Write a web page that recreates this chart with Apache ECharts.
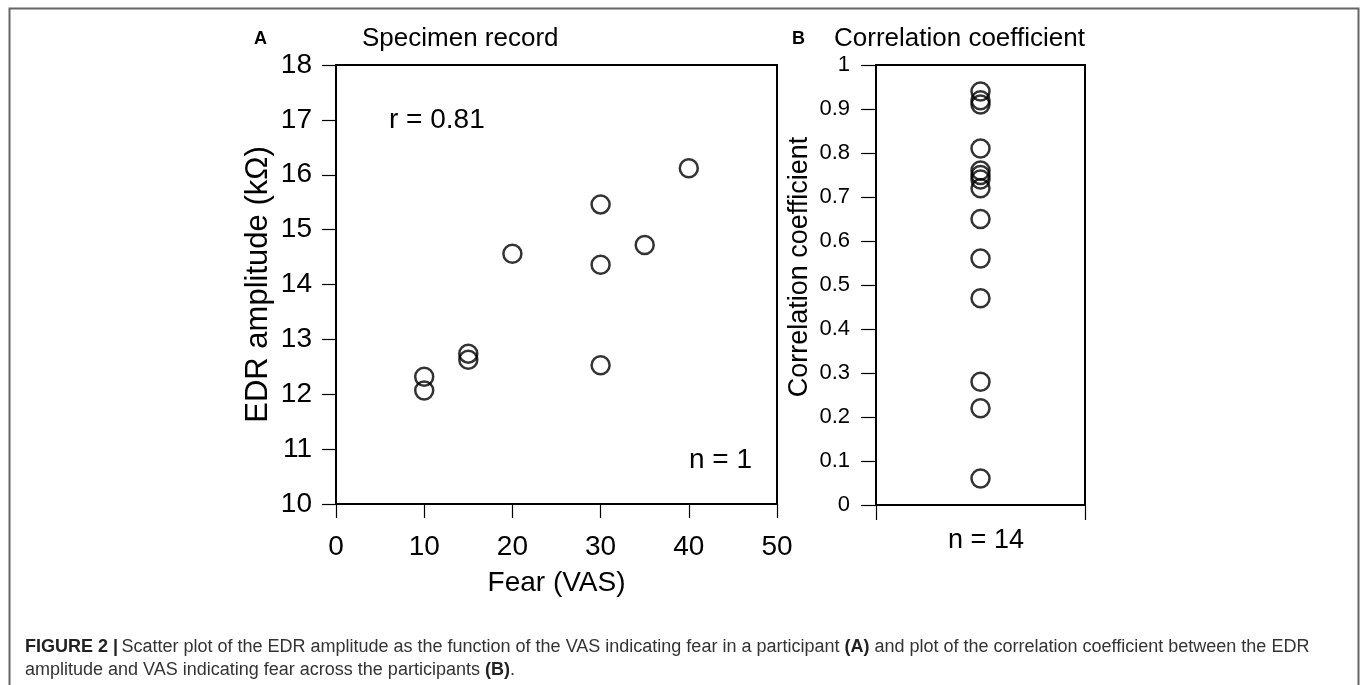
<!DOCTYPE html>
<html>
<head>
<meta charset="utf-8">
<script src="https://cdn.jsdelivr.net/npm/echarts@6/dist/echarts.min.js"></script>
<style>
html,body{margin:0;padding:0;background:#fff;}
#chart{width:1360px;height:685px;}
</style>
</head>
<body>
<div id="chart"></div>
<script>
// Panel A data: Fear (VAS) vs EDR amplitude (kΩ)
const fearVAS = [10, 10, 15, 15, 20, 30, 30, 30, 35, 40];
const edrAmplitude = [12.07, 12.32, 12.74, 12.63, 14.56, 15.46, 14.36, 12.53, 14.72, 16.12];
// Panel B data: correlation coefficients across participants
const corrCoefficients = [0.06, 0.22, 0.28, 0.47, 0.56, 0.65, 0.72, 0.74, 0.75, 0.76, 0.81, 0.91, 0.92, 0.94];
const corrX = 1;

const FONT = '"Liberation Sans", Arial, Helvetica, sans-serif';
const chart = echarts.init(document.getElementById('chart'));

const markerStyle = { color: 'rgba(0,0,0,0)', borderColor: '#000', borderWidth: 2.5 };

chart.setOption({
  backgroundColor: '#fff',
  animation: false,
  textStyle: { fontFamily: FONT },
  title: [
    { text: 'A', left: 249, top: 25, textStyle: { fontFamily: FONT, fontSize: 18, fontWeight: 'bold', color: '#000' } },
    { text: 'Specimen record', left: 357, top: 21, textStyle: { fontFamily: FONT, fontSize: 26, fontWeight: 'normal', color: '#000' } },
    { text: 'B', left: 787, top: 25, textStyle: { fontFamily: FONT, fontSize: 18, fontWeight: 'bold', color: '#000' } },
    { text: 'Correlation coefficient', left: 829, top: 21, textStyle: { fontFamily: FONT, fontSize: 26, fontWeight: 'normal', color: '#000' } }
  ],
  grid: [
    { left: 336, top: 65, width: 441, height: 439, show: true, borderColor: '#000', borderWidth: 2, backgroundColor: 'transparent' },
    { left: 876, top: 65, width: 209, height: 440, show: true, borderColor: '#000', borderWidth: 2, backgroundColor: 'transparent' }
  ],
  xAxis: [
    {
      gridIndex: 0, type: 'value', min: 0, max: 50, interval: 10,
      name: 'Fear (VAS)', nameLocation: 'middle', nameGap: 65,
      nameTextStyle: { fontFamily: FONT, fontSize: 28, color: '#000' },
      axisLine: { show: true, onZero: false, lineStyle: { color: '#000', width: 2 } },
      axisTick: { show: true, length: 14, lineStyle: { color: '#000', width: 1.2 } },
      axisLabel: { fontFamily: FONT, fontSize: 28, color: '#000', margin: 29 },
      splitLine: { show: false }
    },
    {
      gridIndex: 1, type: 'value', min: 0, max: 2, interval: 2,
      name: 'n = 14', nameLocation: 'middle', nameGap: 22,
      nameTextStyle: { fontFamily: FONT, fontSize: 27, color: '#000', padding: [0, 0, 0, 11] },
      axisLine: { show: true, onZero: false, lineStyle: { color: '#000', width: 2 } },
      axisTick: { show: true, length: 15, lineStyle: { color: '#000', width: 1.2 } },
      axisLabel: { show: false },
      splitLine: { show: false }
    }
  ],
  yAxis: [
    {
      gridIndex: 0, type: 'value', min: 10, max: 18, interval: 1,
      name: 'EDR amplitude (kΩ)', nameLocation: 'middle', nameGap: 62, nameRotate: 90,
      nameTextStyle: { fontFamily: FONT, fontSize: 31, color: '#000' },
      axisLine: { show: true, onZero: false, lineStyle: { color: '#000', width: 2 } },
      axisTick: { show: true, length: 14, lineStyle: { color: '#000', width: 1.2 } },
      axisLabel: { fontFamily: FONT, fontSize: 28, color: '#000', margin: 24 },
      splitLine: { show: false }
    },
    {
      gridIndex: 1, type: 'value', min: 0, max: 1, interval: 0.1,
      name: 'Correlation coefficient', nameLocation: 'middle', nameGap: 63, nameRotate: 90,
      nameTextStyle: { fontFamily: FONT, fontSize: 27, color: '#000', padding: [0, 0, 0, 36] },
      axisLine: { show: true, onZero: false, lineStyle: { color: '#000', width: 2 } },
      axisTick: { show: true, length: 15, lineStyle: { color: '#000', width: 1.2 } },
      axisLabel: { fontFamily: FONT, fontSize: 22, color: '#000', margin: 26,
        formatter: v => (Math.round(v * 10) / 10).toString() },
      splitLine: { show: false }
    }
  ],
  series: [
    {
      type: 'scatter', xAxisIndex: 0, yAxisIndex: 0,
      symbol: 'circle', symbolSize: 18,
      itemStyle: markerStyle,
      data: fearVAS.map((x, i) => [x, edrAmplitude[i]])
    },
    {
      type: 'scatter', xAxisIndex: 1, yAxisIndex: 1,
      symbol: 'circle', symbolSize: 18,
      itemStyle: markerStyle,
      data: corrCoefficients.map(v => [corrX, v])
    }
  ],
  graphic: [
    { type: 'rect', left: 7, top: 6, shape: { width: 1349, height: 700 }, style: { fill: 'none', stroke: '#666', lineWidth: 2 }, silent: true },
    { type: 'text', left: 389, top: 106, style: { text: 'r = 0.81', font: '28px ' + FONT, fill: '#000' } },
    { type: 'text', left: 689, top: 446, style: { text: 'n = 1', font: '28px ' + FONT, fill: '#000' } },
    { type: 'text', left: 25, top: 638, style: {
        rich: { b: { font: 'bold 18px ' + FONT, fill: '#222' }, n: { font: '18px ' + FONT, fill: '#333' } },
        text: '{b|FIGURE 2 |} {n|Scatter plot of the EDR amplitude as the function of the VAS indicating fear in a participant }{b|(A)}{n| and plot of the correlation coefficient between the EDR}'
      } },
    { type: 'text', left: 25, top: 661, style: {
        rich: { b: { font: 'bold 18px ' + FONT, fill: '#222' }, n: { font: '18px ' + FONT, fill: '#333' } },
        text: '{n|amplitude and VAS indicating fear across the participants }{b|(B)}{n|.}'
      } }
  ]
});
</script>
</body>
</html>
